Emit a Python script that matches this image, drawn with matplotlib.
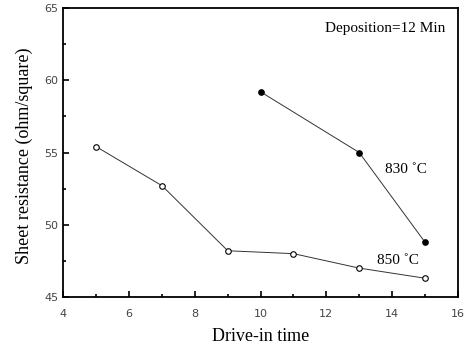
import matplotlib
matplotlib.use('Agg')
import matplotlib.pyplot as plt
from matplotlib.ticker import MultipleLocator

# data
t_850 = [5, 7, 9, 11, 13, 15]
r_850 = [55.4, 52.7, 48.2, 48.0, 47.0, 46.3]
t_830 = [10, 13, 15]
r_830 = [59.2, 55.0, 48.8]

fig = plt.figure(figsize=(4.7, 3.49), dpi=100)
ax = fig.add_axes([0.135, 0.149, 0.839, 0.828])

ax.plot(t_850, r_850, color='#333333', lw=0.7, marker='o', ms=4,
        mfc='white', mec='black', mew=0.8)
ax.plot(t_830, r_830, color='#333333', lw=0.7, marker='o', ms=4,
        mfc='black', mec='black', mew=0.8)

ax.set_xlim(4, 16)
ax.set_ylim(45, 65)
ax.xaxis.set_major_locator(MultipleLocator(2))
ax.xaxis.set_minor_locator(MultipleLocator(1))
ax.yaxis.set_major_locator(MultipleLocator(5))
ax.yaxis.set_minor_locator(MultipleLocator(2.5))
ax.tick_params(which='both', direction='in', top=False, right=False,
               labelsize=8, labelcolor='#444444', width=1.2)
ax.tick_params(which='major', length=4)
ax.tick_params(which='minor', length=2)
ax.tick_params(axis='x', pad=9)
for sp in ax.spines.values():
    sp.set_linewidth(1.3)

serif = 'Liberation Serif'
ax.set_xlabel('Drive-in time', fontsize=13, family=serif, labelpad=6)
ax.set_ylabel('Sheet resistance (ohm/square)', fontsize=13, family=serif)
ax.yaxis.set_label_coords(-0.078, 0.49)
ax.text(11.95, 63.6, 'Deposition=12 Min', fontsize=11, family=serif, va='center')
ax.text(13.8, 53.8, '830 \u02daC', fontsize=11, family=serif, va='center')
ax.text(13.53, 47.56, '850 \u02daC', fontsize=11, family=serif, va='center')

fig.savefig('out.png', dpi=100)
